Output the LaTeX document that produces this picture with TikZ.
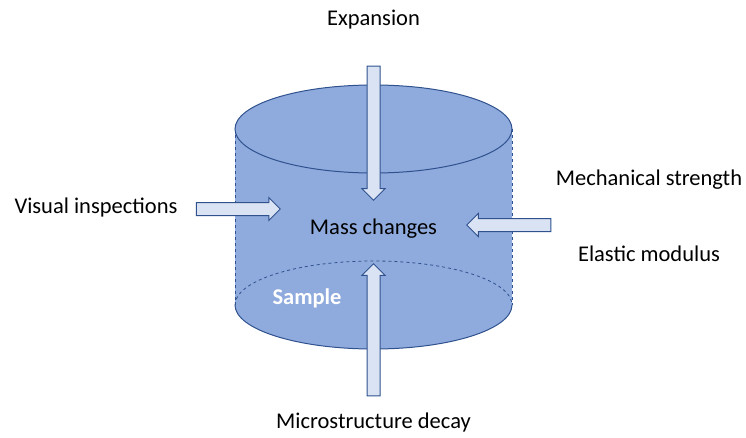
\documentclass[tikz,border=0pt]{standalone}
\usepackage{fontspec}
\setmainfont{Carlito}
\usetikzlibrary{shapes.arrows}
\definecolor{cylfill}{HTML}{8FAADC}
\definecolor{cylline}{HTML}{2F528F}
\definecolor{arrfill}{HTML}{DAE3F3}
\begin{document}
\begin{tikzpicture}[x=1pt,y=1pt,font=\fontsize{22.5}{26}\selectfont,
		blockarrow/.style={single arrow, draw=cylline, fill=arrfill, line width=1pt, inner sep=6pt, single arrow head extend=5pt, single arrow tip angle=90, minimum width=23pt, anchor=center},
		lbl/.style={inner sep=0pt}]
			\useasboundingbox (0,0) rectangle (746,437);
			% cylinder
			\fill[cylfill] (235,308) -- (235,132) arc[start angle=180, end angle=360, x radius=138.5, y radius=44] -- (512,308) -- cycle;
			\draw[cylline, line width=0.6pt, dashed] (235,308) -- (235,132);
			\draw[cylline, line width=0.6pt, dashed] (512,308) -- (512,132);
			\draw[cylline, line width=1pt] (235,132) arc[start angle=180, end angle=360, x radius=138.5, y radius=44];
			\draw[cylline, line width=0.8pt, dashed] (235,132) arc[start angle=180, end angle=0, x radius=138.5, y radius=44];
			\draw[cylline, line width=1pt, fill=cylfill] (373.5,308) ellipse[x radius=138.5, y radius=44];
			% arrows
			\node (expArrow) [blockarrow, rotate=-90, minimum height=134pt] at (373.5,307) {};
			\node (micArrow) [blockarrow, rotate=90, minimum height=132pt] at (373.5,104) {};
			\node (visArrow) [blockarrow, minimum height=84pt] at (235,228) {};
			\node (mecArrow) [blockarrow, rotate=180, minimum height=84pt] at (512,212) {};
			% labels
			\node (exp) [lbl] at (373.5,417) {Expansion};
			\node (vis) [lbl] at (96,229) {Visual inspections};
			\node (mec) [lbl] at (649,257) {Mechanical strength};
			\node (ela) [lbl] at (649,183) {Elastic modulus};
			\node (mass) [lbl] at (373.5,208) {Mass changes};
			\node (smp) [lbl, text=white, font=\fontsize{22.5}{26}\selectfont\bfseries] at (307,139) {Sample};
			\node (mic) [lbl] at (373.5,15) {Microstructure decay};
		\end{tikzpicture}
\end{document}
